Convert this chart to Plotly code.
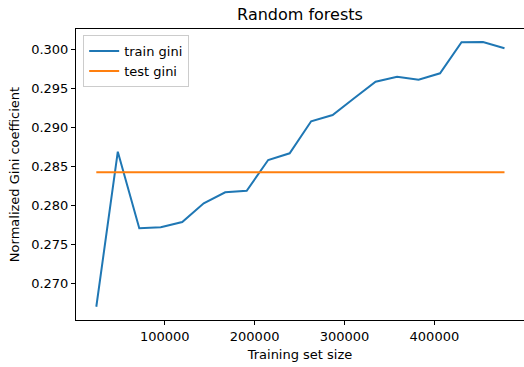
import plotly.graph_objects as go

# Data
train_sizes = [23900, 47800, 71700, 95600, 119500, 143400, 167300, 191200, 215100, 239000,
               262900, 286800, 310700, 334600, 358500, 382400, 406300, 430200, 454100, 478000]
train_gini = [0.2670, 0.28687, 0.27705, 0.27718, 0.27786, 0.28026, 0.28167, 0.28187, 0.28581, 0.28667,
              0.29077, 0.29158, 0.29372, 0.29585, 0.29649, 0.29610, 0.29692, 0.30090, 0.30092, 0.30013]
test_gini = [0.28423] * len(train_sizes)

x_tick_vals = [100000, 200000, 300000, 400000]
x_tick_text = ["100000", "200000", "300000", "400000"]
y_tick_vals = [0.270, 0.275, 0.280, 0.285, 0.290, 0.295, 0.300]
y_tick_text = ["0.270", "0.275", "0.280", "0.285", "0.290", "0.295", "0.300"]

FONT = "DejaVu Sans"

fig = go.Figure()
fig.add_trace(go.Scatter(x=train_sizes, y=train_gini, mode="lines", name="train gini",
                         line=dict(color="#1f77b4", width=2)))
fig.add_trace(go.Scatter(x=train_sizes, y=test_gini, mode="lines", name="test gini",
                         line=dict(color="#ff7f0e", width=2)))

fig.update_layout(
    width=524, height=367,
    margin=dict(l=76, r=0, t=29, b=47),
    paper_bgcolor="white", plot_bgcolor="white",
    font=dict(family=FONT, size=13, color="black"),
    title=dict(text="Random forests", x=0.5, xref="paper", xanchor="center",
               y=1 - 14 / 367, yanchor="middle", yref="container",
               font=dict(family=FONT, size=16, color="black")),
    showlegend=True,
    legend=dict(x=0.016, y=0.979, xanchor="left", yanchor="top",
                bgcolor="rgba(255,255,255,0.8)", bordercolor="#cccccc", borderwidth=1,
                tracegroupgap=0,
                font=dict(family=FONT, size=13, color="black")),
    xaxis=dict(range=[1300, 499700], tickvals=x_tick_vals, ticktext=x_tick_text,
               automargin=False,
               showgrid=False, zeroline=False, showline=True, linecolor="black", linewidth=1,
               mirror=True, ticks="outside", ticklen=4, tickcolor="black",
               title=dict(text="Training set size", standoff=7,
                          font=dict(family=FONT, size=13, color="black"))),
    yaxis=dict(range=[0.26530, 0.30260], tickvals=y_tick_vals, ticktext=y_tick_text,
               automargin=False,
               showgrid=False, zeroline=False, showline=True, linecolor="black", linewidth=1,
               mirror=True, ticks="outside", ticklen=4, tickcolor="black",
               title=dict(text="Normalized Gini coefficient", standoff=8,
                          font=dict(family=FONT, size=13, color="black"))),
)

fig.write_html("out.html",
               config={"displayModeBar": False},
               post_script="document.body.style.margin='0';document.body.style.overflow='hidden';")
